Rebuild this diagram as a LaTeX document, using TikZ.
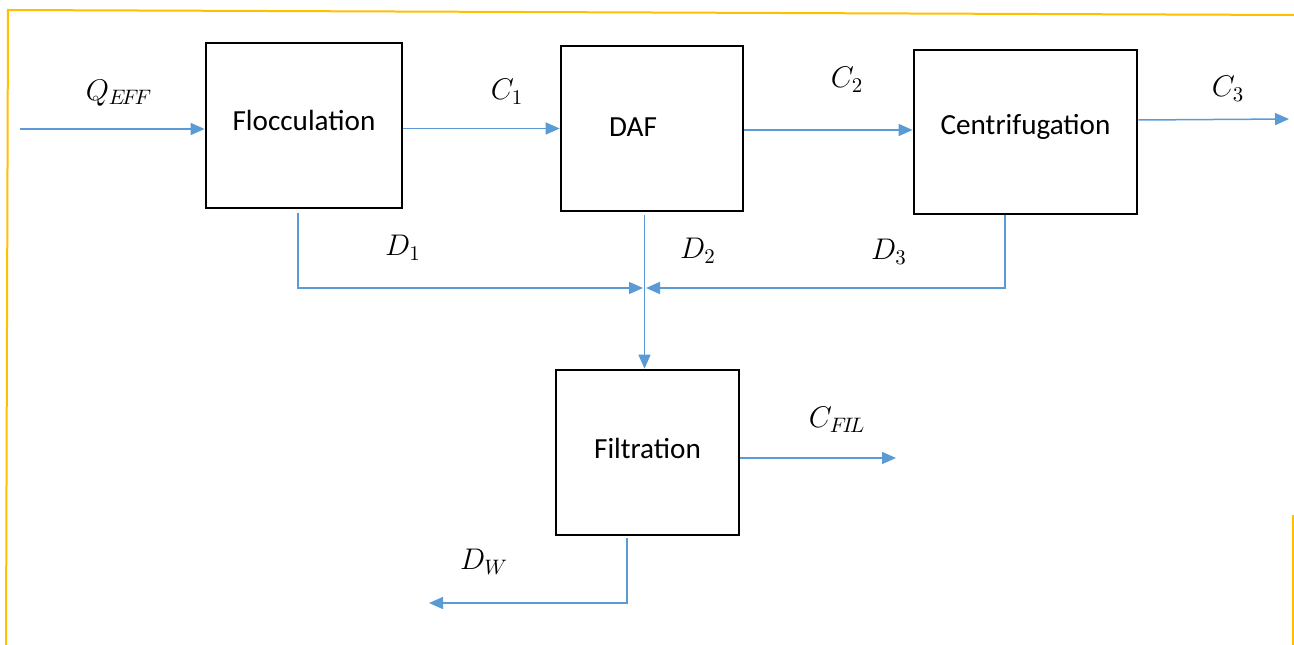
\documentclass[tikz,border=0pt]{standalone}
\usepackage{fontspec}
\usepackage{fix-cm}
\setmainfont{Carlito}
\usetikzlibrary{arrows.meta}
\definecolor{flowblue}{HTML}{5B9BD5}
\definecolor{framegold}{HTML}{FFC000}
\tikzset{
  unit/.style={draw=black, line width=0.055cm, inner sep=0pt},
  unittext/.style={font=\fontsize{16.6}{19}\selectfont, inner sep=0pt},
  flow/.style={draw=flowblue, line width=0.03cm,
    -{Triangle[length=0.28cm,width=0.24cm]}},
  tag/.style={inner sep=0pt, font=\fontsize{17}{20}\selectfont},
  frameline/.style={draw=framegold, line width=0.04cm}
}
\begin{document}
\begin{tikzpicture}[x=0.02cm, y=-0.02cm]
  \useasboundingbox (0,0) rectangle (1294,645);

  % frame
  \draw[frameline] (6,645) -- (8,10) -- (1294,15);
  \draw[frameline] (1293,515) -- (1293,645);

  % process units (caption placed inside each box)
  \node[unit, minimum width=196*0.02cm, minimum height=165*0.02cm,
        label={[unittext, yshift=0.11cm]center:Flocculation}] (floc) at (304,125.5) {};
  \node[unit, minimum width=182*0.02cm, minimum height=165*0.02cm,
        label={[unittext, xshift=-0.38cm, yshift=0.03cm]center:DAF}] (daf) at (652,128.5) {};
  \node[unit, minimum width=223*0.02cm, minimum height=164*0.02cm,
        label={[unittext, yshift=0.1cm]center:Centrifugation}] (cent) at (1025.5,132) {};
  \node[unit, minimum width=183*0.02cm, minimum height=165*0.02cm,
        label={[unittext, yshift=0.09cm]center:Filtration}] (filt) at (647.5,452.5) {};

  % reference points for the streams
  \coordinate (qin) at (20,129);
  \coordinate (c1y) at (0,128.5);
  \coordinate (c2y) at (0,130);
  \coordinate (c3y) at (0,120);
  \coordinate (c3end) at (1289,119);
  \coordinate (mj) at (644.5,288);
  \coordinate (d1x) at (298,0);
  \coordinate (d3x) at (1005,0);
  \coordinate (cfy) at (0,458);
  \coordinate (cfend) at (896,458);
  \coordinate (dwcorner) at (627,603);
  \coordinate (dwend) at (429,603);

  % main line
  \draw[flow] (qin) -- (qin -| floc.west);
  \draw[flow] (floc.east |- c1y) -- (daf.west |- c1y);
  \draw[flow] (daf.east |- c2y) -- (cent.west |- c2y);
  \draw[flow] (cent.east |- c3y) -- (c3end);

  % sludge streams to filtration
  \draw[flow, shorten >=0.03cm] ([yshift=-0.08cm]d1x |- floc.south) -- (d1x |- mj) -- (mj);
  \draw[flow, shorten >=0.03cm] (d3x |- cent.south) -- (d3x |- mj) -- (mj);
  \draw[flow] ([yshift=-0.06cm]daf.south -| mj) -- (filt.north -| mj);

  % filtration outlets
  \draw[flow] (filt.east |- cfy) -- (cfend);
  \draw[flow] ([yshift=-0.04cm]dwcorner |- filt.south) -- (dwcorner) -- (dwend);

  % stream labels
  \node[tag] (lq) at (119,93) {$Q_{E\!F\!F}$};
  \node[tag] (lc1) at (507,92) {$C_1$};
  \node[tag] (lc2) at (847,80) {$C_2$};
  \node[tag] (lc3) at (1228,89) {$C_3$};
  \node[tag] (ld1) at (403,248) {$D_1$};
  \node[tag] (ld2) at (698,251) {$D_2$};
  \node[tag] (ld3) at (889,252) {$D_3$};
  \node[tag] (lcf) at (837,420) {$C_{F\!I\!L}$};
  \node[tag] (ldw) at (484,562) {$D_W$};
\end{tikzpicture}
\end{document}
